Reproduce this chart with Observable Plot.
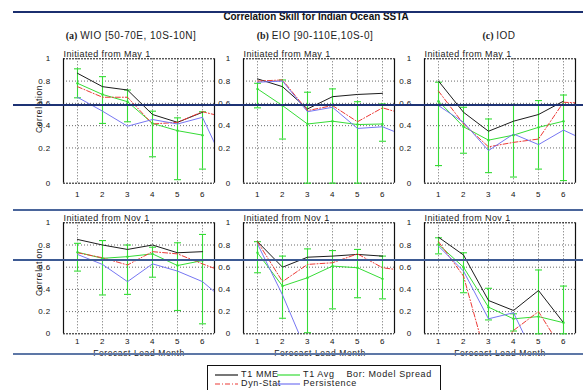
<!DOCTYPE html>
<html><head><meta charset="utf-8">
<script src="https://cdn.jsdelivr.net/npm/d3@7"></script>
<script src="https://cdn.jsdelivr.net/npm/@observablehq/plot@0.6"></script>
<style>
body{margin:0;background:#fff;}
#root{position:relative;width:583px;height:390px;overflow:hidden;font-family:"Liberation Sans",Arial,sans-serif;color:#111;}
.abs{position:absolute;white-space:nowrap;}
.hline{position:absolute;left:13px;right:0;height:1.5px;z-index:5;}
.lbl{font-size:8.5px;letter-spacing:0.6px;color:#222;}
</style></head>
<body><div id="root"></div>
<script>
// ---------------- data ----------------
const months = [1, 2, 3, 4, 5, 6, 7];
const xTicks = [1, 2, 3, 4, 5, 6];
const yTicks = [0, 0.2, 0.4, 0.6, 0.8, 1];
const panelTags = ["(a)", "(b)", "(c)"];
const panelNames = ["WIO [50-70E, 10S-10N]", "EIO [90-110E,10S-0]", "IOD"];
const initLabels = ["Initiated from May 1", "Initiated from Nov 1"];
const seriesNames = ["T1 MME", "T1 Avg", "Dyn-Stat", "Persistence"];
const seriesColors = ["#1c1c1c", "#36dc36", "#ec3a36", "#7676f2"];
const spreadNote = "Bor: Model Spread";
const xTitle = "Forecast Lead Month";
const yTitle = "Correlation";
const chartTitle = "Correlation Skill for Indian Ocean SSTA";

// panels: WIO May, EIO May, IOD May, WIO Nov, EIO Nov, IOD Nov
const mme = [
  [0.87, 0.75, 0.72, 0.50, 0.43, 0.52, null],
  [0.82, 0.75, 0.55, 0.66, 0.68, 0.69, null],
  [0.80, 0.52, 0.35, 0.44, 0.50, 0.62, null],
  [0.85, 0.80, 0.76, 0.80, 0.73, 0.74, null],
  [0.83, 0.60, 0.69, 0.70, 0.715, 0.70, null],
  [0.87, 0.71, 0.30, 0.21, 0.39, 0.10, null]
];
const avg = [
  [0.78, 0.68, 0.615, 0.42, 0.355, 0.315, null],
  [0.73, 0.58, 0.415, 0.44, 0.41, 0.415, null],
  [0.62, 0.39, 0.27, 0.315, 0.385, 0.44, null],
  [0.735, 0.68, 0.695, 0.72, 0.615, 0.66, null],
  [0.73, 0.43, 0.505, 0.61, 0.595, 0.495, null],
  [0.805, 0.60, 0.24, 0.135, 0.155, 0.10, null]
];
const dyn = [
  [0.75, 0.655, 0.655, 0.415, 0.43, 0.525, 0.47],
  [0.80, 0.81, 0.535, 0.58, 0.435, 0.56, 0.495],
  [0.71, 0.415, 0.21, 0.25, 0.28, 0.61, 0.60],
  [0.73, 0.685, 0.62, 0.74, 0.72, 0.63, 0.545],
  [0.83, 0.47, 0.625, 0.64, 0.72, 0.595, 0.565],
  [0.83, 0.52, -0.29, 0.03, 0.20, -0.16, null]
];
const pers = [
  [0.655, 0.53, 0.395, 0.455, 0.415, 0.475, 0.07],
  [0.79, 0.80, 0.525, 0.565, 0.375, 0.39, 0.30],
  [0.58, 0.43, 0.185, 0.325, 0.23, 0.36, 0.255],
  [0.715, 0.625, 0.47, 0.63, 0.565, 0.47, 0.28],
  [0.81, 0.35, -0.18, null, null, null, null],
  [0.79, 0.565, 0.135, 0.19, -0.28, null, null]
];
const spreadLo = [
  [0.65, 0.42, 0.435, 0.15, 0.02, 0.08],
  [0.56, 0.28, 0.0, 0.0, 0.0, 0.26],
  [0.10, 0.17, 0.06, 0.035, 0.08, 0.015],
  [0.565, 0.35, 0.355, 0.51, 0.21, 0.09],
  [0.55, 0.14, 0.01, 0.225, 0.325, 0.315],
  [0.72, 0.37, 0.125, 0.025, 0.0, 0.0]
];
const spreadHi = [
  [0.91, 0.84, 0.72, 0.53, 0.47, 0.525],
  [0.78, 0.81, 0.70, 0.73, 0.615, 0.595],
  [0.79, 0.565, 0.46, 0.59, 0.625, 0.675],
  [0.815, 0.84, 0.80, 0.78, 0.82, 0.895],
  [0.83, 0.70, 0.765, 0.75, 0.76, 0.70],
  [0.865, 0.73, 0.41, 0.18, 0.575, 0.43]
];

// ---------------- layout ----------------
const root = document.getElementById("root");
function addDiv(html, css, cls) {
  const d = document.createElement("div");
  d.className = "abs " + (cls || "");
  d.innerHTML = html;
  Object.assign(d.style, css);
  root.appendChild(d);
  return d;
}
const xDomain = [0.44, 6.48];
const seriesArrays = [mme, avg, dyn, pers];
const dashes = [null, null, "5,2,1,2", null];
// the May-start panels have a stretched band below 0.2 on their vertical axis
const stretch = 1.582;
const warp = [v => (v >= 0.2 ? v : 0.2 - (0.2 - v) * stretch), v => v];
const unwarp = [t => (t >= 0.2 ? t : 0.2 - (0.2 - t) / stretch), t => t];

function toRecords(arr) {
  return months.map((m, k) => ({m, v: arr[k]})).filter(d => d.v != null);
}

function panel(i) {
  const row = Math.floor(i / 3), col = i % 3;
  const f = warp[row], fi = unwarp[row];
  const height = row === 0 ? 170 : 148;
  const frameTop = row === 0 ? 18.3 : 17.3;
  const frameBottom = row === 0 ? 142.7 : 128.3;
  const bars = xTicks.map((m, k) => ({m, lo: spreadLo[i][k], hi: spreadHi[i][k]}));
  const caps = bars.flatMap(b => [{m: b.m, v: b.lo}, {m: b.m, v: b.hi}]);
  const Y = d => f(d.v);
  const marks = [
    Plot.ruleY([0.2, 0.4, 0.6, 0.8].map(f), {stroke: "#444", strokeDasharray: "1,2", strokeWidth: 0.8}),
    Plot.ruleX(xTicks, {stroke: "#444", strokeDasharray: "1,2", strokeWidth: 0.8}),
    Plot.ruleY([0, 1].map(f), {stroke: "#111", strokeDasharray: "2,1", strokeWidth: 1}),
    Plot.ruleX(xDomain, {stroke: "#111", strokeWidth: 1.2}),
    Plot.axisY({ticks: yTicks.map(f), tickSize: 0, tickPadding: 13, tickFormat: t => { const v = Math.round(fi(t) * 10) / 10; return v === 0 ? "0" : v === 1 ? "1" : v.toFixed(1); }}),
    Plot.axisX({ticks: xTicks, tickSize: 0, tickPadding: row === 0 ? 8 : 5, tickFormat: d => String(d)}),
    Plot.ruleX(bars, {x: "m", y1: d => f(d.lo), y2: d => f(d.hi), stroke: seriesColors[1], strokeWidth: 1.1}),
    Plot.link(caps, {x1: d => d.m - 0.14, x2: d => d.m + 0.14, y1: Y, y2: Y, stroke: seriesColors[1], strokeWidth: 1.1})
  ];
  seriesArrays.forEach((arr, s) => {
    marks.push(Plot.line(toRecords(arr[i]), {x: "m", y: Y, stroke: seriesColors[s], strokeWidth: 1, strokeDasharray: dashes[s] || undefined, clip: true}));
  });
  marks.push(Plot.dot(toRecords(avg[i]), {x: "m", y: Y, fill: seriesColors[1], r: 1.2, clip: true}));
  marks.push(Plot.text([initLabels[row]], {frameAnchor: "top-left", text: d => d, textAnchor: "start", lineAnchor: "bottom", dy: -1.5, fontSize: 9, fill: "#222"}));

  const chart = Plot.plot({
    width: 200, height,
    marginLeft: 43, marginRight: 6, marginTop: frameTop, marginBottom: height - frameBottom,
    x: {domain: xDomain, label: null},
    y: {domain: [f(0), 1], label: null},
    style: {fontSize: "8px", fontFamily: "'Liberation Sans', Arial, sans-serif", background: "transparent", overflow: "visible", letterSpacing: "0.4px"},
    marks
  });
  chart.style.position = "absolute";
  chart.style.left = [20, 200, 381][col] + "px";
  chart.style.top = (row === 0 ? 40 : 205) + "px";
  root.appendChild(chart);
}
for (let i = 0; i < 6; i++) panel(i);

// titles
addDiv(chartTitle, {left: "166px", width: "300px", top: "10px", textAlign: "center", fontWeight: "bold", fontSize: "11px", transform: "scaleX(0.9)"});
const titleCenters = [131, 315, 499];
panelTags.forEach((t, c) => {
  addDiv(`<span style="font-family:'Liberation Serif',serif;font-weight:bold;font-size:10px">${t}</span> <span style="letter-spacing:0.5px">${panelNames[c]}</span>`,
    {left: (titleCenters[c] - 100) + "px", width: "200px", top: "30px", textAlign: "center", fontSize: "10px", color: "#222"});
});
// y titles
[110, 273].forEach(cy => {
  addDiv(yTitle, {left: (39 - 40) + "px", width: "80px", top: (cy - 6) + "px", textAlign: "center", transform: "rotate(-90deg)"}, "lbl");
});
// x titles
[139, 320, 500].forEach(cx => {
  addDiv(xTitle, {left: (cx - 60) + "px", width: "120px", top: "348px", textAlign: "center"}, "lbl");
});

// decorative horizontal rules
[[12, "#1b2f6f"], [105, "#1d3274"], [210, "#4a659b"], [260, "#3d5a93"], [354, "#5d77a6"]].forEach(([y, c]) => {
  const d = document.createElement("div");
  d.className = "hline";
  d.style.top = (y - 0.75) + "px";
  d.style.background = c;
  root.appendChild(d);
});

// legend
function swatch(color, dash) {
  return `<svg width="23" height="6" style="vertical-align:middle"><line x1="0" x2="23" y1="3" y2="3" stroke="${color}" stroke-width="1.2" ${dash ? `stroke-dasharray="${dash}"` : ""}/></svg>`;
}
const leg = addDiv("", {left: "207px", top: "365px", width: "232px", height: "34px", border: "1px solid #111", background: "#fff", fontSize: "9px", letterSpacing: "0.6px", color: "#222"});
const rows = [[0, 1, spreadNote], [2, 3, ""]];
rows.forEach(([a, b, note], r) => {
  const line = document.createElement("div");
  line.style.position = "absolute";
  line.style.left = "7px";
  line.style.top = (3 + r * 9) + "px";
  line.style.whiteSpace = "nowrap";
  line.innerHTML = `${swatch(seriesColors[a], dashes[a])} <span style="display:inline-block;width:36px">${seriesNames[a]}</span>${swatch(seriesColors[b], dashes[b])} <span>${seriesNames[b]}</span>${note ? `<span style="margin-left:12px">${note}</span>` : ""}`;
  leg.appendChild(line);
});
</script>
</body></html>
